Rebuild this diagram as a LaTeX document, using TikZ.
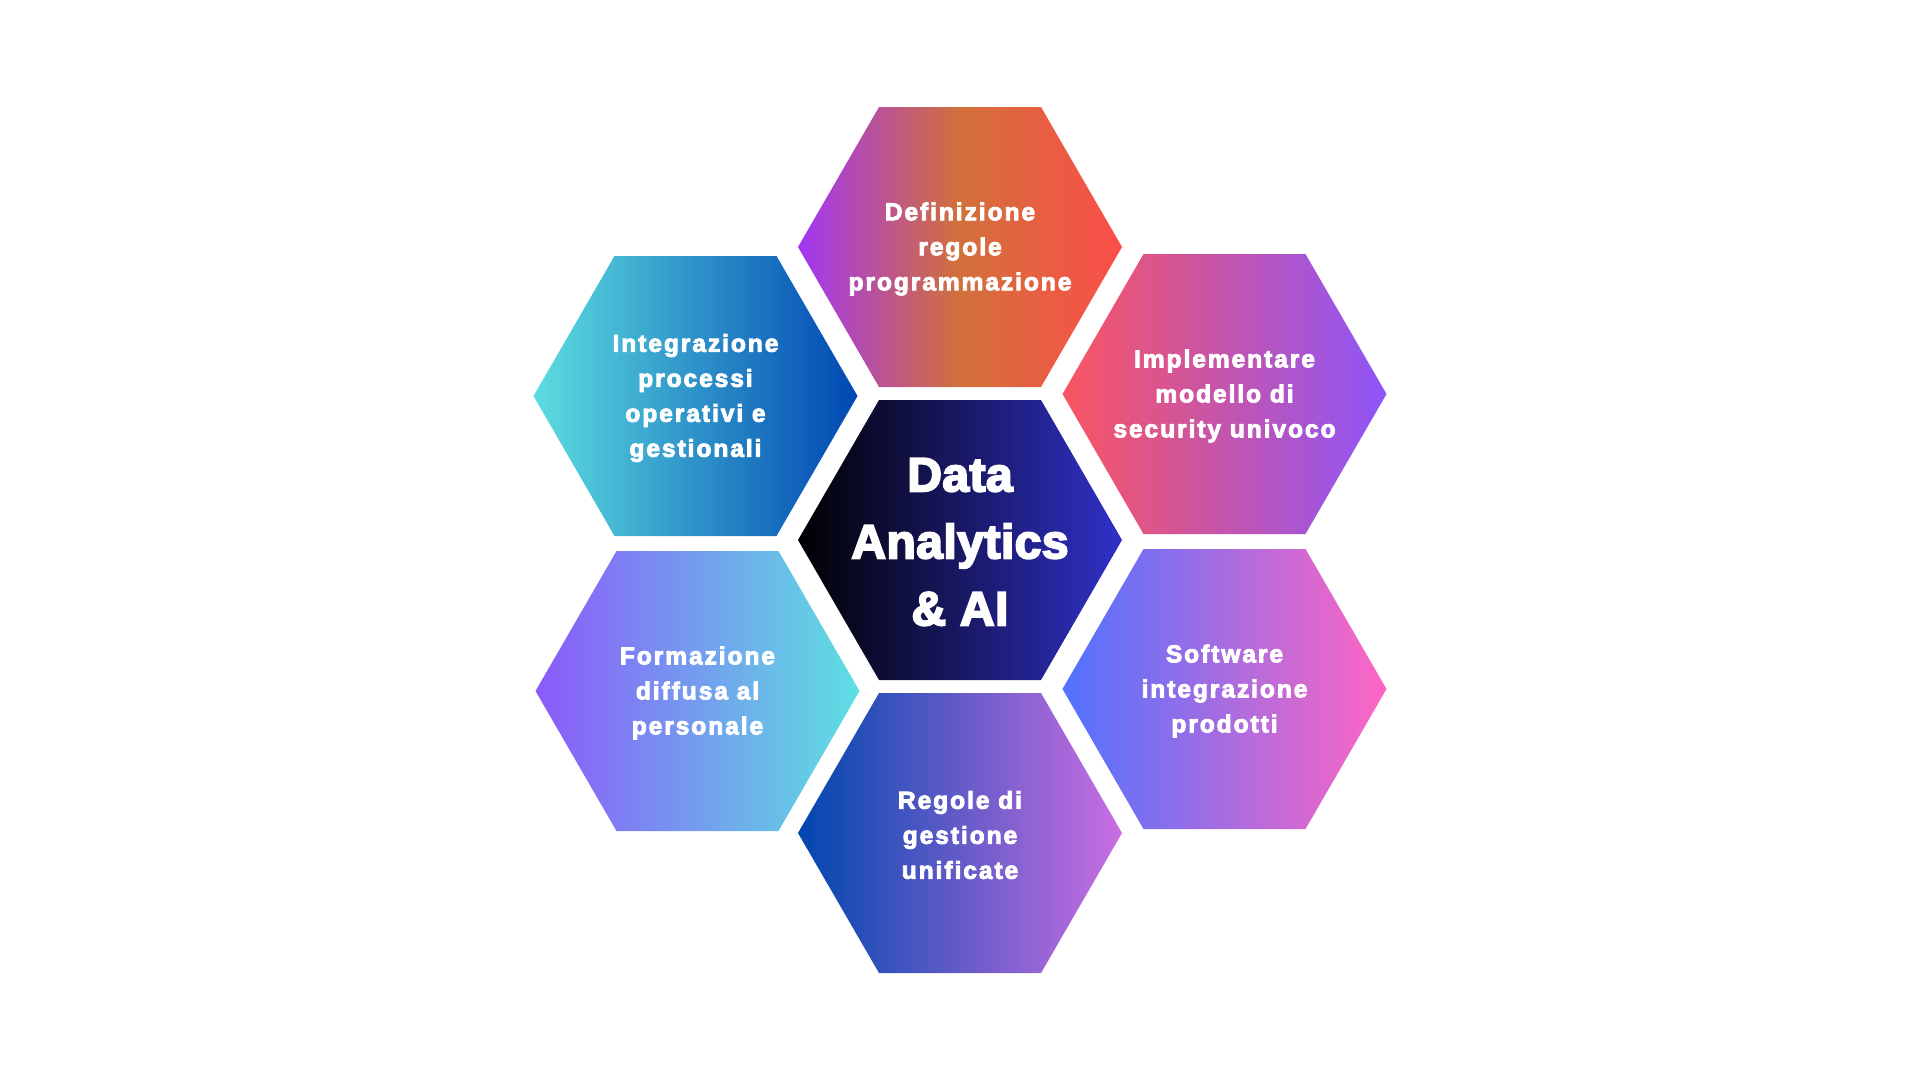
\documentclass[tikz,border=0pt]{standalone}
\usepackage{fontspec}
\newfontfamily\hexfont[LetterSpace=8,BoldFeatures={FakeBold=3.5}]{Liberation Sans}
\newfontfamily\centerfont[LetterSpace=1,BoldFeatures={FakeBold=4}]{Liberation Sans}
\definecolor{topL}{HTML}{A236F2}
\definecolor{topM}{HTML}{D2703A}
\definecolor{topR}{HTML}{FC4E4A}
\definecolor{cenL}{HTML}{000000}
\definecolor{cenR}{HTML}{3030C8}
\definecolor{ulL}{HTML}{5CDDE0}
\definecolor{ulR}{HTML}{0047B2}
\definecolor{urL}{HTML}{FA5560}
\definecolor{urR}{HTML}{8D55FA}
\definecolor{llL}{HTML}{8B5AFA}
\definecolor{llR}{HTML}{5DE0E2}
\definecolor{lrL}{HTML}{5072FF}
\definecolor{lrR}{HTML}{FF66C2}
\definecolor{botL}{HTML}{0047AE}
\definecolor{botR}{HTML}{C96EE2}
\begin{document}
\begin{tikzpicture}[x=1pt,y=-1pt,
  hexagon/.pic={\shade[pic actions] (-162,0)--(-81,-140)--(81,-140)--(162,0)--(81,140)--(-81,140)--cycle;},
  lbl/.style={text=white,align=center,inner sep=0pt,font=\hexfont\bfseries\fontsize{24.5}{35}\selectfont},
  big/.style={text=white,align=center,inner sep=0pt,font=\centerfont\bfseries\fontsize{48}{67}\selectfont}]
\fill[white] (0,0) rectangle (1920,1080);
% hexagons
\pic[left color=cenL,right color=cenR] at (960,540) {hexagon};
\pic[left color=topL,right color=topR,middle color=topM] at (960,247) {hexagon};
\pic[left color=ulL,right color=ulR] at (695.5,396) {hexagon};
\pic[left color=urL,right color=urR] at (1224.5,394) {hexagon};
\pic[left color=llL,right color=llR] at (697.5,691) {hexagon};
\pic[left color=lrL,right color=lrR] at (1224.5,689) {hexagon};
\pic[left color=botL,right color=botR] at (960,833) {hexagon};
% labels
\node[big] (center) at (960,542) {Data\\Analytics\\\& AI};
\node[lbl] (top) at (960,249) {Definizione\\regole\\programmazione};
\node[lbl] (ul) at (695.5,398) {Integrazione\\processi\\operativi e\\gestionali};
\node[lbl] (ur) at (1224.5,396) {Implementare\\modello di\\security univoco};
\node[lbl] (ll) at (697.5,693) {Formazione\\diffusa al\\personale};
\node[lbl] (lr) at (1224.5,691) {Software\\integrazione\\prodotti};
\node[lbl] (bot) at (960,835) {Regole di\\gestione\\unificate};
\end{tikzpicture}
\end{document}
